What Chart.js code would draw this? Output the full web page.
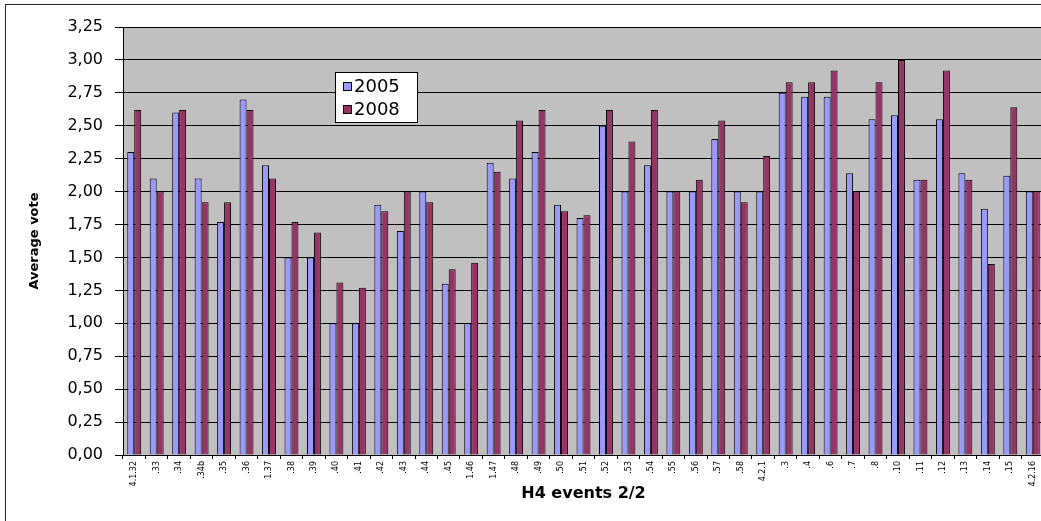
<!DOCTYPE html>
<html>
<head>
<meta charset="utf-8">
<script src="https://cdn.jsdelivr.net/npm/chart.js@4"></script>
<style>
  html, body { margin: 0; padding: 0; background: #fff; }
  #wrap { position: relative; width: 1041px; height: 521px; overflow: hidden; }
  #frame { position: absolute; left: 5px; top: 4px; width: 1100px; height: 600px; border: 1px solid #222; pointer-events: none; }
  canvas { position: absolute; left: 0; top: 0; }
</style>
</head>
<body>
<div id="wrap">
  <canvas id="voteChart" width="1045" height="521"></canvas>
  <div id="frame"></div>
</div>
<script>
// categories (H4 events 2/2)
const events = ['4.1.32', '.33', '.34', '.34b', '.35', '.36', '1.37', '.38', '.39', '.40',
  '.41', '.42', '.43', '.44', '.45', '1.46', '1.47', '.48', '.49', '.50',
  '.51', '.52', '.53', '.54', '.55', '.56', '.57', '.58', '4.2.1', '.3',
  '.4', '.6', '.7', '.8', '.10', '.11', '.12', '.13', '.14', '.15', '4.2.16'];

// average votes per year
const votes2005 = [2.30, 2.10, 2.60, 2.10, 1.77, 2.70, 2.20, 1.50, 1.50, 1.00,
  1.00, 1.90, 1.70, 2.00, 1.30, 1.00, 2.22, 2.10, 2.30, 1.90,
  1.80, 2.50, 2.00, 2.20, 2.00, 2.00, 2.40, 2.00, 2.00, 2.75,
  2.72, 2.72, 2.14, 2.55, 2.58, 2.09, 2.55, 2.14, 1.87, 2.12, 2.00];
const votes2008 = [2.62, 2.00, 2.62, 1.92, 1.92, 2.62, 2.10, 1.77, 1.69, 1.31,
  1.27, 1.85, 2.00, 1.92, 1.41, 1.46, 2.15, 2.54, 2.62, 1.85,
  1.82, 2.62, 2.38, 2.62, 2.00, 2.09, 2.54, 1.92, 2.27, 2.83,
  2.83, 2.92, 2.00, 2.83, 3.00, 2.09, 2.92, 2.09, 1.45, 2.64, 2.00];

const yMin = 0, yMax = 3.25, yStep = 0.25;

const seriesNames = ['2005', '2008'];
const seriesColors = ['#9999FF', '#993366'];

const FONT = '"DejaVu Sans", Verdana, sans-serif';

// gray plot background
const plotBg = {
  id: 'plotBg',
  beforeDraw(chart) {
    const { ctx, chartArea: a } = chart;
    ctx.save();
    ctx.fillStyle = '#C0C0C0';
    ctx.fillRect(a.left, a.top, a.right - a.left, a.bottom - a.top);
    ctx.restore();
  }
};

// boxed legend inside the plot, like the original
const boxLegend = {
  id: 'boxLegend',
  afterDraw(chart) {
    const ctx = chart.ctx;
    const x = 335, y = 72, w = 82, h = 50;
    ctx.save();
    ctx.fillStyle = '#fff';
    ctx.fillRect(x, y, w, h);
    ctx.strokeStyle = '#000';
    ctx.lineWidth = 1;
    ctx.strokeRect(x + 0.5, y + 0.5, w, h);
    ctx.font = '18px ' + FONT;
    ctx.textBaseline = 'middle';
    seriesNames.forEach((name, i) => {
      const cy = y + 14 + i * 23;
      ctx.fillStyle = seriesColors[i];
      ctx.fillRect(x + 8, cy - 4, 8, 8);
      ctx.strokeStyle = '#000';
      ctx.strokeRect(x + 8.5, cy - 3.5, 8, 8);
      ctx.fillStyle = '#000';
      ctx.fillText(name, x + 19, cy + 1);
    });
    ctx.restore();
  }
};

const ctx = document.getElementById('voteChart').getContext('2d');
const voteChart = new Chart(ctx, {
  type: 'bar',
  data: {
    labels: events,
    datasets: [
      { label: seriesNames[0], data: votes2005, backgroundColor: seriesColors[0], borderColor: '#000', borderWidth: 1 },
      { label: seriesNames[1], data: votes2008, backgroundColor: seriesColors[1], borderColor: '#000', borderWidth: 1 }
    ]
  },
  options: {
    responsive: false,
    animation: false,
    categoryPercentage: 0.62,
    barPercentage: 1.0,
    layout: { padding: { left: 0, top: 27, right: 1, bottom: 0 } },
    plugins: {
      legend: { display: false },
      tooltip: { enabled: false }
    },
    scales: {
      x: {
        afterFit: (s) => { s.height = 66; },
        grid: { display: true, drawOnChartArea: false, color: '#000', tickLength: 4, offset: true },
        border: { color: '#000' },
        ticks: {
          minRotation: 90, maxRotation: 90, autoSkip: false, padding: 2,
          color: '#000',
          font: { family: FONT, size: 8 }
        },
        title: {
          display: true, text: 'H4 events 2/2', color: '#000',
          font: { family: FONT, size: 16, weight: 'bold' },
          padding: { top: 0, bottom: 18 }
        }
      },
      y: {
        min: yMin, max: yMax,
        afterFit: (s) => { s.width = 123; },
        grid: { color: '#000', tickLength: 8, lineWidth: 1 },
        border: { color: '#000' },
        ticks: {
          stepSize: yStep, padding: 12, color: '#000',
          font: { family: FONT, size: 16 },
          callback: (v) => v.toFixed(2).replace('.', ',')
        },
        title: {
          display: true, text: 'Average vote', color: '#000',
          font: { family: FONT, size: 13, weight: 'bold' },
          padding: { top: 27, bottom: 0 }
        }
      }
    }
  },
  plugins: [plotBg, boxLegend]
});
</script>
</body>
</html>
